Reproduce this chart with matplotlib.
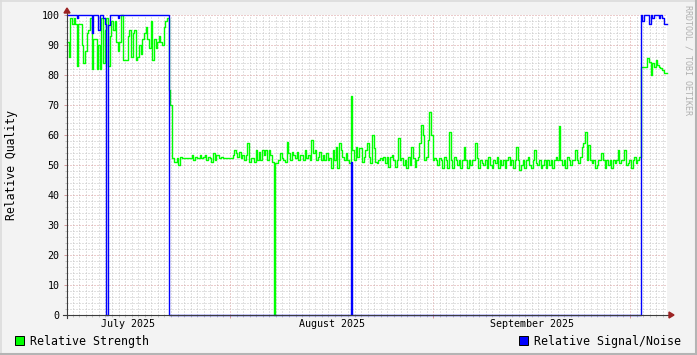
import numpy as np
import pandas as pd
import matplotlib
matplotlib.use("Agg")
import matplotlib.pyplot as plt
import matplotlib.dates as mdates
from matplotlib.ticker import MultipleLocator, NullFormatter
from matplotlib.patches import Rectangle, Polygon
from matplotlib.lines import Line2D

# tamaño final en pixeles
W, H = 697, 355

# rango de tiempo del grafico y paso de los datos
inicio = "2025-07-07 03:20"
fin = "2025-10-06 15:20"
paso = "6h"

meses = ["July 2025", "August 2025", "September 2025"]
limites_meses = ["2025-07-01", "2025-08-01", "2025-09-01", "2025-10-01"]

# Relative Strength, un valor cada 6 horas
fuerza = [
    91, 86, 99, 97, 99, 97, 83, 97, 97, 90, 84, 88, 94, 95, 99, 82, 92, 92, 82, 90,
    82, 99, 84, 95, 99, 83, 93, 98, 95, 98, 91, 88, 91, 100, 85, 85, 85, 93, 95, 86,
    94, 95, 85, 86, 90, 87, 92, 94, 96, 92, 89, 98, 85, 92, 89, 91, 93, 91, 90, 96,
    98, 99, 75, 70,
    52.2, 51.1, 51.1, 52.2, 50, 52.8, 52.2, 52.2, 52.2, 52.2, 52.2, 52.2, 53.3, 51.7,
    52.8, 52.2, 52.2, 53.3, 52.2, 52.8, 53.3, 51.7, 52.8, 52.2, 51.1, 53.9, 51.7, 53.3,
    53.3, 52.2, 52.8, 52.2, 52.2, 52.2, 52.2, 52.2, 52.2, 53.3, 55, 53.9, 52.8, 54.4,
    52.2, 53.3, 51.7, 53.3, 57.2, 51.1, 52.2, 52.2, 51.1, 55, 51.7, 54.4, 51.7, 55,
    53.3, 55, 51.7, 55, 53.3, 51.1, 0, 50.6, 50.6, 51.7, 53.9, 52.2, 51.7, 51.1,
    57.8, 53.9, 51.7, 54.4, 53.3, 52.2, 54.4, 51.7, 53.3, 53.3, 51.7, 55, 52.2, 53.3,
    51.7, 58.3, 53.9, 55, 51.7, 52.8, 54.4, 51.7, 53.3, 51.7, 53.9, 51.7, 52.2, 48.9,
    55, 51.7, 56.1, 48.9, 57.2, 55, 52.8, 51.7, 53.9, 51.7, 50.6, 73, 55, 51.7,
    56.1, 52.8, 55.6, 55.6, 51.1, 52.8, 55, 57.2, 52.8, 50.6, 60, 55.6, 51.1, 50.6,
    51.7, 52.2, 51.7, 52.8, 50.6, 52.8, 49.4, 52.8, 53.3, 51.7, 49.4, 51.7, 58.9,
    51.7, 52.2, 50, 51.7, 48.9, 52.8, 50, 56.1, 52.2, 49.4, 51.7, 52.8, 57.2, 63.3,
    60, 51.7, 52.8, 58.3, 67.8, 60, 51.7, 52.2, 51.7, 50, 52.2, 51.7, 48.9, 52.8,
    51.7, 48.9, 61.1, 51.7, 48.9, 52.8, 51.7, 50, 51.7, 48.9, 51.7, 55.9, 51.7, 48.9,
    51.7, 50, 51.7, 51.7, 57.2, 52.2, 48.9, 51.7, 50.6, 50, 51.7, 48.9, 52.8, 50,
    48.9, 51.7, 50.6, 52.8, 48.9, 51.7, 50, 51.7, 48.9, 51.7, 52.8, 50, 51.7, 48.9,
    51.7, 55.9, 51.7, 48.3, 50, 51.7, 48.9, 51.7, 52.8, 50, 48.9, 51.7, 55, 50.6,
    50, 51.7, 48.9, 50, 51.7, 48.9, 51.7, 50, 51.7, 48.9, 51.7, 52.8, 51.7, 63,
    51.7, 50, 51.7, 48.9, 52.8, 51.7, 50, 51.7, 51.7, 55, 51.7, 50.6, 52.8, 55.9,
    57.2, 61.1, 51.7, 56.7, 51.7, 50.6, 51.7, 48.9, 50, 51.7, 51.7, 53.9, 51.7, 48.9,
    51.7, 50, 51.7, 48.9, 51.7, 50.6, 51.7, 55, 50.6, 51.7, 51.7, 55, 50, 50.6,
    51.7, 48.9, 51.7, 52.8, 50.6, 51.7, 52.8,
    82.8, 82.8, 82.8, 82.8, 85.6, 84.4, 80, 83.9, 82.8, 85, 83.3, 82.8, 82.2, 81.7,
    80.8, 80.8,
]

# Relative Signal/Noise, en tramos (cantidad de pasos, valor)
ruido_pasos = [6, 1, 8, 1, 3, 1, 2, 1, 1, 1, 1, 5, 1, 30,
               111, 1, 176,
               1, 1, 3, 1, 1, 1, 3, 1, 1, 1, 2]
ruido_valores = [100, 98.9, 100, 94, 100, 95, 100, 98.9, 97, 0, 96.7, 100, 99, 100,
                 0, 51, 0,
                 100, 98, 100, 97, 100, 98.9, 100, 98.9, 100, 98.9, 97]

ruido = list(np.repeat(ruido_valores, ruido_pasos))
tiempos = pd.date_range(inicio, periods=len(fuerza) + 1, freq=paso)


def px(x, y):
    # de pixeles de la imagen a fraccion de figura
    return x / W, 1 - y / H


fig = plt.figure(figsize=(W / 100, H / 100), dpi=100, facecolor="#F3F3F3")
ax = fig.add_axes([67 / W, 1 - 315 / H, 600 / W, 300 / H])
ax.set_facecolor("white")

ax.plot(tiempos, fuerza + [fuerza[-1]], drawstyle="steps-post", color="#00FF00",
        lw=1.0, clip_on=False, zorder=3)
ax.plot(tiempos, ruido + [ruido[-1]], drawstyle="steps-post", color="#0000FF",
        lw=1.0, clip_on=False, zorder=4)

ax.set_xlim(pd.Timestamp(inicio), pd.Timestamp(fin))
ax.set_ylim(0, 100)

ax.xaxis.set_major_locator(mdates.MonthLocator())
ax.xaxis.set_minor_locator(mdates.DayLocator())
ax.xaxis.set_major_formatter(NullFormatter())
ax.yaxis.set_major_locator(MultipleLocator(10))
ax.yaxis.set_minor_locator(MultipleLocator(2))

# rejilla punteada, 1 pixel encendido y 2 apagados
gris = "#C4C4C4"
rojo = "#D89A9A"
ax.grid(which="minor", color=gris, lw=0.72, linestyle=(0, (1, 2)), zorder=1)
ax.grid(which="major", color=rojo, lw=0.72, linestyle=(0, (1, 2)), zorder=1)
ax.set_axisbelow(True)

ax.tick_params(which="major", length=2.2, width=0.72, color=rojo, pad=3.2,
               labelsize=7.2, labelcolor="#000000")
ax.tick_params(which="minor", length=1.2, width=0.72, color=gris)
for lab in ax.get_yticklabels():
    lab.set_family("DejaVu Sans Mono")

for s in ax.spines.values():
    s.set_visible(False)

# meses centrados en cada mes
for i, nombre in enumerate(meses):
    a = pd.Timestamp(limites_meses[i])
    b = pd.Timestamp(limites_meses[i + 1])
    ax.text(a + (b - a) / 2, -0.03, nombre, transform=ax.get_xaxis_transform(),
            ha="center", va="center", fontsize=7.2, family="DejaVu Sans Mono")

# ejes con flechas
eje = "#3C3C3C"
fig.add_artist(Line2D(*zip(px(67, 318), px(67, 12)), color=eje, lw=0.8, zorder=5))
fig.add_artist(Line2D(*zip(px(63, 315), px(670, 315)), color=eje, lw=0.8, zorder=5))
flecha = "#9C2323"
fig.add_artist(Polygon([px(64, 13), px(70, 13), px(67, 8)], closed=True,
                       color=flecha, transform=fig.transFigure, zorder=6))
fig.add_artist(Polygon([px(669, 312), px(669, 318), px(674, 315)], closed=True,
                       color=flecha, transform=fig.transFigure, zorder=6))

fig.text(*px(12, 165), "Relative Quality", rotation=90, ha="center", va="center",
         fontsize=8.3, family="DejaVu Sans Mono")
fig.text(*px(688, 5), "RRDTOOL / TOBI OETIKER", rotation=-90, ha="center", va="top",
         fontsize=6, family="DejaVu Sans Mono", color="#B0B0B0")

# leyenda
leyenda = [("Relative Strength", "#00FF00", 15), ("Relative Signal/Noise", "#0000FF", 519)]
for texto, color, x0 in leyenda:
    fig.add_artist(Rectangle(px(x0, 345), 9 / W, 9 / H, facecolor=color,
                             edgecolor="black", lw=0.7, transform=fig.transFigure))
    fig.text(*px(x0 + 15, 341), texto, ha="left", va="center", fontsize=8.4,
             family="DejaVu Sans Mono")

# borde sombreado
fig.add_artist(Line2D(*zip(px(0.5, 0), px(0.5, H)), color="#DCDCDC", lw=1.2))
fig.add_artist(Line2D(*zip(px(0, 0.5), px(W, 0.5)), color="#DCDCDC", lw=1.2))
fig.add_artist(Line2D(*zip(px(W - 1, 0), px(W - 1, H)), color="#B4B4B4", lw=1.5))
fig.add_artist(Line2D(*zip(px(0, H - 1), px(W, H - 1)), color="#B4B4B4", lw=1.5))

fig.savefig("out.png", dpi=100, facecolor=fig.get_facecolor())
